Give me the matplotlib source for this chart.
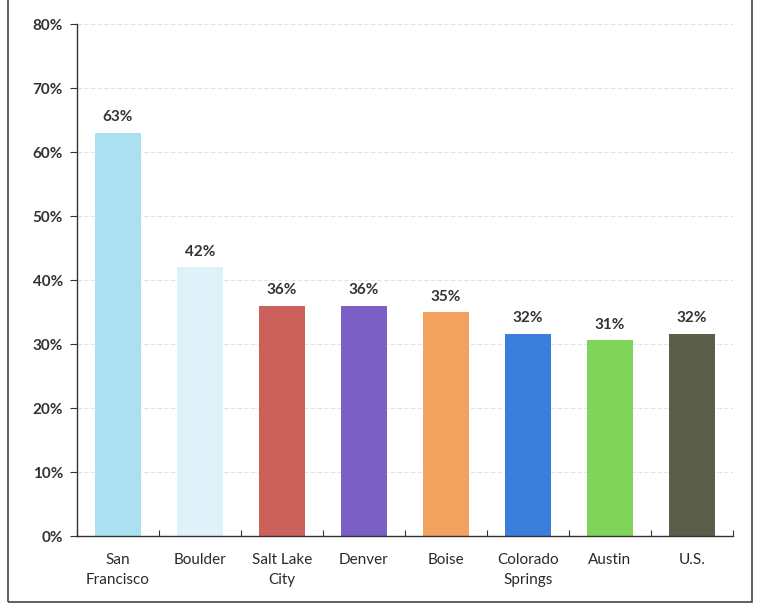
import matplotlib
matplotlib.use('Agg')
import matplotlib.pyplot as plt
from matplotlib.patches import Rectangle
from matplotlib.ticker import MultipleLocator, FuncFormatter

cities = ['San\nFrancisco', 'Boulder', 'Salt Lake\nCity', 'Denver', 'Boise',
          'Colorado\nSprings', 'Austin', 'U.S.']
shares = [63.0, 42.0, 36.0, 36.0, 35.0, 31.6, 30.6, 31.6]
bar_colors = ['#abe0f0', '#dff2fa', '#cc605b', '#7c5fc4', '#f2a15e',
              '#3b7fdc', '#80d459', '#5a5e49']

plt.rcParams['font.family'] = ['Lato', 'DejaVu Sans']

fig = plt.figure(figsize=(7.57, 6.05), dpi=100)
ax = fig.add_axes([77 / 757, 1 - 536 / 605, 656 / 757, 512 / 605])

x = range(len(cities))
bars = ax.bar(x, shares, width=0.57, color=bar_colors, zorder=2)

for bar, v in zip(bars, shares):
    ax.text(bar.get_x() + bar.get_width() / 2, v + 1.3, f'{v:.0f}%',
            ha='center', va='bottom', fontsize=11, fontweight='bold', color='#333333')

ax.set_xlim(-0.5, len(cities) - 0.5)
ax.set_ylim(0, 80)
ax.yaxis.set_major_locator(MultipleLocator(10))
ax.yaxis.set_major_formatter(FuncFormatter(lambda v, p: f'{v:.0f}%'))
ax.grid(axis='y', color='#e4e4e4', linewidth=0.8, linestyle=(0, (4, 2)), zorder=0)

# category boundaries carry the ticks, names sit on minor positions
ax.set_xticks([i + 0.5 for i in range(-1, len(cities))])
ax.set_xticklabels([])
ax.set_xticks(list(x), minor=True)
ax.set_xticklabels(cities, minor=True, fontsize=11, color='#2a2a2a', linespacing=1.55)
ax.tick_params(axis='x', which='minor', length=0, pad=12)
ax.tick_params(axis='x', which='major', direction='in', length=4, color='#333333')
ax.tick_params(axis='y', direction='out', length=5, labelsize=11, labelcolor='#333333',
               pad=5, color='#333333')
for lab in ax.get_yticklabels():
    lab.set_fontweight('bold')

for side in ['top', 'right']:
    ax.spines[side].set_visible(False)
for side in ['left', 'bottom']:
    ax.spines[side].set_color('#333333')
    ax.spines[side].set_linewidth(1.0)

fig.patches.append(Rectangle((8 / 757, 3 / 605), 744 / 757, 1.02, transform=fig.transFigure,
                             fill=False, edgecolor='#444444', linewidth=1.2))

fig.savefig('out.png', dpi=100, facecolor='white')
